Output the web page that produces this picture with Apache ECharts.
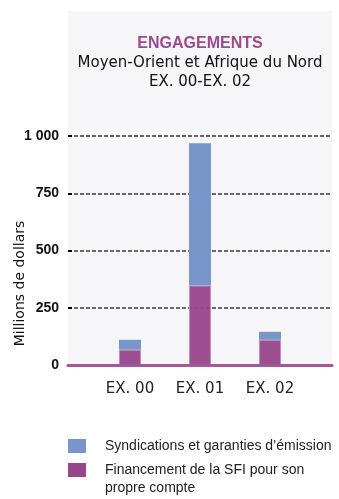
<!DOCTYPE html>
<html>
<head>
<meta charset="utf-8">
<script src="https://cdn.jsdelivr.net/npm/echarts@6/dist/echarts.min.js"></script>
<style>
  html, body { margin: 0; padding: 0; background: #ffffff; }
  #chart { width: 339px; height: 499px; }
</style>
</head>
<body>
<div id="chart"></div>
<script>
// Fiscal years shown on the category axis
const categories = ['EX. 00', 'EX. 01', 'EX. 02'];
// Commitments, millions of dollars
const ownAccount = [67, 347, 110];      // Financement de la SFI pour son propre compte
const syndications = [43, 621, 35];     // Syndications et garanties d'émission
const yTicks = [0, 250, 500, 750, 1000];

const seriesNames = {
  syn: 'Syndications et garanties d\u2019émission',
  own: 'Financement de la SFI pour son propre compte'
};

const FONT = 'DejaVu Sans';
const SANS = 'Liberation Sans';
const BLUE = '#7896c9';
const MAGENTA = '#97468a';

const chart = echarts.init(document.getElementById('chart'), null, { renderer: 'canvas' });

chart.setOption({
  animation: false,
  backgroundColor: '#ffffff',
  graphic: [
    { type: 'rect', z: -10, shape: { x: 68, y: 11, width: 264, height: 355 }, style: { fill: '#f6f6f8' } },
    { type: 'text', x: 200, y: 44, style: { text: 'ENGAGEMENTS', font: 'bold 16px "' + SANS + '"', fill: '#9b4a92', align: 'center', verticalAlign: 'middle' } },
    { type: 'text', x: 200, y: 63, style: { text: 'Moyen-Orient et Afrique du Nord', font: '15px "' + FONT + '"', fill: '#111', align: 'center', verticalAlign: 'middle' } },
    { type: 'text', x: 200, y: 82, style: { text: 'EX. 00-EX. 02', font: '15px "' + FONT + '"', fill: '#111', align: 'center', verticalAlign: 'middle' } }
  ],
  legend: {
    orient: 'vertical',
    left: 68,
    top: 437,
    height: 120,
    padding: 0,
    itemWidth: 18,
    itemHeight: 14,
    itemGap: -12,
    icon: 'rect',
    selectedMode: false,
    // the multi-line entry starts with an empty line so its first line sits beside the swatch
    formatter: name => (name === seriesNames.own ? '{sp|}\n' : '') + name,
    textStyle: {
      fontFamily: SANS, fontSize: 14, color: '#222', lineHeight: 18,
      width: 252, overflow: 'break', padding: [0, 0, 0, 14],
      rich: { sp: { lineHeight: 18, height: 18 } }
    },
    data: [
      { name: seriesNames.syn },
      { name: seriesNames.own, textStyle: { width: 230 }, itemStyle: { borderWidth: 0, opacity: 1 } }
    ]
  },
  grid: [
    { left: 68, right: 7, top: 136, bottom: 134, outerBoundsMode: 'none', containLabel: false },
    { left: 95, width: 210, top: 136, bottom: 134, outerBoundsMode: 'none', containLabel: false }
  ],
  xAxis: [
    {
      gridIndex: 0, type: 'category', data: [''], z: 5,
      axisLine: { show: true, lineStyle: { color: '#a3569b', width: 3 } },
      axisTick: { show: false }, axisLabel: { show: false }, splitLine: { show: false }
    },
    {
      gridIndex: 1, type: 'category', data: categories,
      axisLine: { show: false }, axisTick: { show: false },
      axisLabel: { fontFamily: FONT, fontSize: 15, color: '#222', margin: 17 }
    }
  ],
  yAxis: [
    {
      gridIndex: 0, type: 'value', min: yTicks[0], max: yTicks[yTicks.length - 1], interval: 250,
      name: 'Millions de dollars', nameLocation: 'middle', nameGap: 41, nameMoveOverlap: false,
      nameTextStyle: { fontFamily: FONT, fontSize: 14, color: '#111', padding: [0, 66, 0, 0] },
      axisLine: { show: false },
      axisTick: { show: true, inside: true, length: 4, lineStyle: { color: '#000', width: 2 } },
      axisLabel: {
        fontFamily: SANS, fontSize: 14, fontWeight: 'bold', color: '#111', margin: 9,
        formatter: v => String(v).replace(/\B(?=(\d{3})+(?!\d))/g, ' ')
      },
      splitLine: { show: true, lineStyle: { color: '#3a3a3a', width: 1.5, type: [4, 2] } }
    },
    { gridIndex: 1, type: 'value', min: 0, max: 1000, show: false }
  ],
  series: [
    {
      name: seriesNames.own, type: 'bar', stack: 'total', xAxisIndex: 1, yAxisIndex: 1,
      barWidth: 22, data: ownAccount,
      itemStyle: { color: MAGENTA, borderColor: '#c58bbb', borderWidth: 1, opacity: 0.95 }
    },
    {
      name: seriesNames.syn, type: 'bar', stack: 'total', xAxisIndex: 1, yAxisIndex: 1,
      barWidth: 22, data: syndications,
      itemStyle: { color: BLUE }
    }
  ]
});
</script>
</body>
</html>
